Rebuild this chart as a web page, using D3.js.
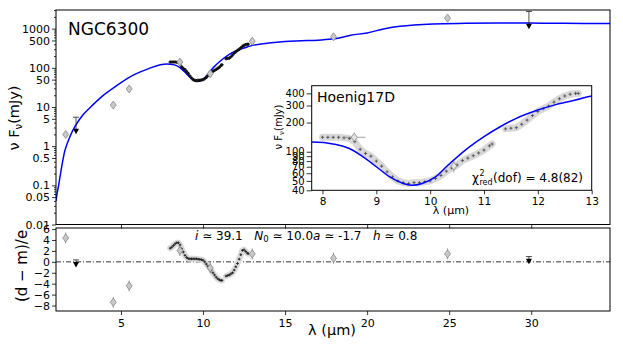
<!DOCTYPE html>
<html>
<head>
<meta charset="utf-8">
<script src="https://cdn.jsdelivr.net/npm/d3@7"></script>
<style>
  body { margin: 0; background: #fff; }
  text { font-family: "DejaVu Sans", sans-serif; fill: #000; }
</style>
</head>
<body>
<script>
"use strict";

// model SED (blue line)
const modelLam = [1.04, 1.1, 1.2, 1.4, 1.6, 1.9, 2.2, 2.7, 3.3, 3.9, 4.4, 5.0, 5.75, 6.8, 7.4, 7.8,
  8.25, 8.5, 8.75, 9.0, 9.25, 9.5, 9.66, 9.85, 10.1, 10.3, 10.5, 10.7, 11.0, 11.3, 11.6, 12.0,
  12.35, 12.7, 13.0, 14, 15, 16, 17, 18, 19, 20, 21, 22, 24, 26, 28, 30, 32, 34.8];
const modelVal = [0.04, 0.06, 0.1, 0.32, 0.82, 1.8, 3.2, 6.4, 11.5, 19.5, 28, 42, 65, 100, 120, 126,
  119, 108, 89, 70, 55, 47, 45, 47, 55, 70, 88, 109, 143, 181, 221, 269,
  308, 341, 375, 430, 470, 490, 510, 550, 680, 780, 980, 1150, 1320, 1370, 1390, 1390, 1370, 1350];

// spectrum (crosses) and its residuals
const specLam = [8.0, 8.1, 8.2, 8.3, 8.4, 8.5, 8.6, 8.7, 8.8, 8.9, 9.0, 9.1, 9.2, 9.3, 9.4, 9.5,
  9.6, 9.7, 9.8, 9.9, 10.0, 10.1, 10.2, 10.3, 10.4, 10.5, 10.6, 10.7, 10.8, 10.9, 11.0, 11.1, 11.15,
  11.4, 11.5, 11.6, 11.7, 11.8, 11.9, 12.0, 12.1, 12.2, 12.3, 12.4, 12.5, 12.6, 12.7, 12.75];
const specVal = [141, 141, 141, 141, 139, 137, 127, 106, 96, 90, 80, 71, 62, 55, 50, 48,
  47, 48, 48, 49, 50, 53, 57, 63, 68, 73, 81, 86, 91, 97, 104, 115, 120,
  172, 175, 177, 192, 212, 236, 260, 278, 296, 325, 352, 376, 392, 400, 400];
const specRes = [2.5, 2.7, 3.0, 3.3, 3.5, 3.5, 3.1, 2.4, 1.8, 1.2, 0.8, 0.6, 0.55, 0.55, 0.55, 0.55,
  0.55, 0.5, 0.45, 0.4, 0.3, 0.0, -0.4, -0.8, -1.1, -1.5, -2.0, -2.4, -2.8, -3.1, -3.3, -3.4, -3.4,
  -2.6, -2.5, -2.4, -2.2, -2.0, -1.5, -0.9, -0.3, 0.5, 1.3, 2.1, 2.2, 1.9, 1.6, 1.5];

// photometry (diamonds)
const photLam = [1.63, 4.53, 5.5, 8.59, 10.44, 13.0, 17.95, 24.9];
const photVal = [2.0, 11.2, 29, 141, 71, 480, 620, 1860];
const photErr = [0.1, 0.15, 0.12, 0.12, 0.14, 0.1, 0.1, 0.1];
const photLamErr = [0, 0, 0, 0.21, 0, 0, 0, 0];
const photRes = [4.38, -7.4, -4.4, 2.06, -1.1, 1.46, 0.66, 1.46];

// upper limits (triangles)
const ulLam = [2.26, 29.86];
const ulVal = [2.4, 1150];
const ulTop = [5.5, 2750];
const ulRes = [-0.5, 0.1];
const ulResTop = [0.36, 0.97];

const yMajor = [0.01, 0.05, 0.1, 0.5, 1, 5, 10, 50, 100, 500, 1000];
const resTicks = [-8, -6, -4, -2, 0, 2, 4, 6];
const xTicks = [5, 10, 15, 20, 25, 30];
const insetXTicks = [8, 9, 10, 11, 12, 13];
const insetYTicks = [40, 50, 60, 70, 80, 90, 100, 200, 300, 400];

const W = 623, H = 346;
const svg = d3.select("body").append("svg").attr("width", W).attr("height", H);

const x = d3.scaleLinear().domain([1.04, 34.8]).range([56, 610]);
const y = d3.scaleLog().domain([0.01, 3000]).range([224.5, 10]);
const yr = d3.scaleLinear().domain([-9, 6.2]).range([311, 228]);
const xi = d3.scaleLinear().domain([7.8, 13]).range([311.7, 591.7]);
const yi = d3.scaleLog().domain([40, 480]).range([190.3, 85.7]);

const diamond = "M0,-4L3,0L0,4L-3,0Z";
const triDown = "M-3,-2.5L3,-2.5L0,3Z";
const cross = "M-1.6,0H1.6M0,-1.6V1.6";
const smallCross = "M-1.3,0H1.3M0,-1.3V1.3";

function clip(id, x0, y0, x1, y1) {
  svg.append("clipPath").attr("id", id).append("rect")
    .attr("x", x0).attr("y", y0).attr("width", x1 - x0).attr("height", y1 - y0);
}
clip("cMain", 56, 10, 610, 224.5);
clip("cRes", 56, 228, 610, 311);
clip("cIns", 311.7, 85.7, 591.7, 190.3);

function styleAxis(g, fs) {
  g.select(".domain").remove();
  g.selectAll("line").attr("stroke", "#000").attr("stroke-width", 0.8);
  g.selectAll("text").style("font-size", fs + "px").attr("font-family", "DejaVu Sans");
}

const modelPts = modelLam.map((d, i) => [d, modelVal[i]]);

// ---------- top panel ----------
const gMain = svg.append("g").attr("clip-path", "url(#cMain)");
gMain.append("path").datum(modelPts)
  .attr("fill", "none").attr("stroke", "#0000ff").attr("stroke-width", 1.5)
  .attr("d", d3.line().curve(d3.curveCatmullRom.alpha(0.5)).x(d => x(d[0])).y(d => y(d[1])));

const specData = specLam.map((d, i) => ({ lam: d, v: specVal[i], r: specRes[i] }));
gMain.selectAll(".sp").data(specData).enter().append("path")
  .attr("d", cross).attr("transform", d => `translate(${x(d.lam)},${y(d.v)})`)
  .attr("stroke", "#111").attr("stroke-width", 1.6);

const photData = photLam.map((d, i) => ({ lam: d, v: photVal[i], e: photErr[i], xe: photLamErr[i], r: photRes[i] }));
gMain.selectAll(".pe").data(photData).enter().append("line")
  .attr("x1", d => x(d.lam)).attr("x2", d => x(d.lam))
  .attr("y1", d => y(d.v * (1 - d.e))).attr("y2", d => y(d.v * (1 + d.e)))
  .attr("stroke", "#777").attr("stroke-width", 0.8);
gMain.selectAll(".pd").data(photData).enter().append("path")
  .attr("d", diamond).attr("transform", d => `translate(${x(d.lam)},${y(d.v)})`)
  .attr("fill", "#c8c8c8").attr("stroke", "#888").attr("stroke-width", 0.8);

const ulData = ulLam.map((d, i) => ({ lam: d, v: ulVal[i], top: ulTop[i], r: ulRes[i], rt: ulResTop[i] }));
ulData.forEach(d => {
  gMain.append("line").attr("x1", x(d.lam)).attr("x2", x(d.lam)).attr("y1", y(d.v)).attr("y2", y(d.top))
    .attr("stroke", "#222").attr("stroke-width", 0.8);
  gMain.append("line").attr("x1", x(d.lam) - 3).attr("x2", x(d.lam) + 3).attr("y1", y(d.top)).attr("y2", y(d.top))
    .attr("stroke", "#222").attr("stroke-width", 0.8);
  gMain.append("path").attr("d", triDown).attr("transform", `translate(${x(d.lam)},${y(d.v)})`).attr("fill", "#000");
});

svg.append("rect").attr("x", 56).attr("y", 10).attr("width", 554).attr("height", 214.5)
  .attr("fill", "none").attr("stroke", "#000").attr("stroke-width", 1);

const yMinor = y.ticks().filter(t => !yMajor.some(m => Math.abs(m - t) / m < 1e-6));
svg.append("g").attr("transform", "translate(56,0)")
  .call(d3.axisLeft(y).tickValues(yMinor).tickSize(2).tickFormat(""))
  .call(g => styleAxis(g, 11));
svg.append("g").attr("transform", "translate(56,0)")
  .call(d3.axisLeft(y).tickValues(yMajor).tickSize(4).tickPadding(2).tickFormat(d => String(d)))
  .call(g => styleAxis(g, 11));
svg.append("g").attr("transform", "translate(0,224.5)")
  .call(d3.axisBottom(x).tickValues(xTicks).tickSize(4).tickFormat(""))
  .call(g => styleAxis(g, 11));

svg.append("text").attr("x", 68).attr("y", 35).style("font-size", "17px").text("NGC6300");

const yl = svg.append("text").attr("transform", "translate(19,118) rotate(-90)")
  .attr("text-anchor", "middle").style("font-size", "14.5px");
yl.append("tspan").text("ν F");
yl.append("tspan").attr("dy", 3).style("font-size", "10px").text("ν");
yl.append("tspan").attr("dy", -3).text("(mJy)");

// ---------- inset ----------
svg.append("rect").attr("x", 311.7).attr("y", 85.7).attr("width", 280).attr("height", 104.6).attr("fill", "#fff");
const gIns = svg.append("g").attr("clip-path", "url(#cIns)");
const specLine = d3.line().x(d => xi(d.lam)).y(d => yi(d.v));
[specData.filter(d => d.lam < 11.3), specData.filter(d => d.lam > 11.3)].forEach(seg => {
  gIns.append("path").datum(seg).attr("d", specLine).attr("fill", "none")
    .attr("stroke", "#d8d8d8").attr("stroke-width", 7).attr("stroke-linecap", "round").attr("stroke-linejoin", "round");
});
gIns.selectAll(".isp").data(specData).enter().append("path")
  .attr("d", cross).attr("transform", d => `translate(${xi(d.lam)},${yi(d.v)})`)
  .attr("stroke", "#444").attr("stroke-width", 0.8);
gIns.append("path").datum(modelPts)
  .attr("fill", "none").attr("stroke", "#0000ff").attr("stroke-width", 1.5)
  .attr("d", d3.line().curve(d3.curveCatmullRom.alpha(0.5)).x(d => xi(d[0])).y(d => yi(d[1])));
const insPhot = photData.filter(d => d.lam > 7.8 && d.lam < 13);
gIns.selectAll(".ipe").data(insPhot).enter().append("line")
  .attr("x1", d => xi(d.lam)).attr("x2", d => xi(d.lam))
  .attr("y1", d => yi(d.v * (1 - d.e))).attr("y2", d => yi(d.v * (1 + d.e)))
  .attr("stroke", "#888").attr("stroke-width", 0.8);
gIns.selectAll(".ixe").data(insPhot.filter(d => d.xe > 0)).enter().append("line")
  .attr("x1", d => xi(d.lam - d.xe)).attr("x2", d => xi(d.lam + d.xe))
  .attr("y1", d => yi(d.v)).attr("y2", d => yi(d.v))
  .attr("stroke", "#888").attr("stroke-width", 0.8);
gIns.selectAll(".ipd").data(insPhot).enter().append("path")
  .attr("d", diamond).attr("transform", d => `translate(${xi(d.lam)},${yi(d.v)})`)
  .attr("fill", "#e4e4e4").attr("stroke", "#888").attr("stroke-width", 0.8);

svg.append("rect").attr("x", 311.7).attr("y", 85.7).attr("width", 280).attr("height", 104.6)
  .attr("fill", "none").attr("stroke", "#000").attr("stroke-width", 1);
svg.append("g").attr("transform", "translate(311.7,0)")
  .call(d3.axisLeft(yi).tickValues(insetYTicks).tickSize(5).tickPadding(2).tickFormat(d => String(d)))
  .call(g => styleAxis(g, 10));
svg.append("g").attr("transform", "translate(0,190.3)")
  .call(d3.axisBottom(xi).tickValues(insetXTicks).tickSize(4).tickPadding(3).tickFormat(d => String(d)))
  .call(g => styleAxis(g, 10.5));

svg.append("text").attr("x", 317).attr("y", 102).style("font-size", "14px").text("Hoenig17D");
svg.append("text").attr("x", 451).attr("y", 214).attr("text-anchor", "middle").style("font-size", "11px").text("λ (μm)");
const iyl = svg.append("text").attr("transform", "translate(282,127) rotate(-90)")
  .attr("text-anchor", "middle").style("font-size", "10px");
iyl.append("tspan").text("ν F");
iyl.append("tspan").attr("dy", 2).style("font-size", "7px").text("ν");
iyl.append("tspan").attr("dy", -2).text("(mJy)");

// chi2 label
const cx0 = 472, cy0 = 182;
const chi = svg.append("text").attr("x", cx0).attr("y", cy0).style("font-size", "12px").text("χ");
const wChi = chi.node().getComputedTextLength();
svg.append("text").attr("x", cx0 + wChi + 0.5).attr("y", cy0 - 6).style("font-size", "8px").text("2");
const red = svg.append("text").attr("x", cx0 + wChi + 0.5).attr("y", cy0 + 3).style("font-size", "8px").text("red");
const wRed = red.node().getComputedTextLength();
svg.append("text").attr("x", cx0 + wChi + wRed + 1).attr("y", cy0).style("font-size", "12px").text("(dof) = 4.8(82)");

// ---------- residual panel ----------
const gRes = svg.append("g").attr("clip-path", "url(#cRes)");
gRes.append("line").attr("x1", 56).attr("x2", 610).attr("y1", yr(0)).attr("y2", yr(0))
  .attr("stroke", "#000").attr("stroke-width", 0.8).attr("stroke-dasharray", "5,2,1,2");
const resLine = d3.line().x(d => x(d.lam)).y(d => yr(d.r));
[specData.filter(d => d.lam < 11.3), specData.filter(d => d.lam > 11.3)].forEach(seg => {
  gRes.append("path").datum(seg).attr("d", resLine).attr("fill", "none")
    .attr("stroke", "#d8d8d8").attr("stroke-width", 6).attr("stroke-linecap", "round").attr("stroke-linejoin", "round");
});
gRes.selectAll(".rsp").data(specData).enter().append("path")
  .attr("d", smallCross).attr("transform", d => `translate(${x(d.lam)},${yr(d.r)})`)
  .attr("stroke", "#222").attr("stroke-width", 1);
gRes.selectAll(".rpe").data(photData).enter().append("line")
  .attr("x1", d => x(d.lam)).attr("x2", d => x(d.lam))
  .attr("y1", d => yr(d.r - 1)).attr("y2", d => yr(d.r + 1))
  .attr("stroke", "#777").attr("stroke-width", 0.8);
gRes.selectAll(".rpd").data(photData).enter().append("path")
  .attr("d", diamond).attr("transform", d => `translate(${x(d.lam)},${yr(d.r)})`)
  .attr("fill", "#c8c8c8").attr("stroke", "#888").attr("stroke-width", 0.8);
ulData.forEach(d => {
  gRes.append("line").attr("x1", x(d.lam)).attr("x2", x(d.lam)).attr("y1", yr(d.r)).attr("y2", yr(d.rt))
    .attr("stroke", "#222").attr("stroke-width", 0.8);
  gRes.append("line").attr("x1", x(d.lam) - 3).attr("x2", x(d.lam) + 3).attr("y1", yr(d.rt)).attr("y2", yr(d.rt))
    .attr("stroke", "#222").attr("stroke-width", 0.8);
  gRes.append("path").attr("d", triDown).attr("transform", `translate(${x(d.lam)},${yr(d.r)})`).attr("fill", "#000");
});

svg.append("rect").attr("x", 56).attr("y", 228).attr("width", 554).attr("height", 83)
  .attr("fill", "none").attr("stroke", "#000").attr("stroke-width", 1);
svg.append("g").attr("transform", "translate(56,0)")
  .call(d3.axisLeft(yr).tickValues(resTicks).tickSize(4).tickPadding(2).tickFormat(d => d < 0 ? "−" + Math.abs(d) : String(d)))
  .call(g => styleAxis(g, 11));
svg.append("g").attr("transform", "translate(0,311)")
  .call(d3.axisBottom(x).tickValues(xTicks).tickSize(4).tickPadding(4).tickFormat(d => String(d)))
  .call(g => styleAxis(g, 11));

const ann = svg.append("text").attr("x", 195).attr("y", 240).style("font-size", "12px")
  .attr("xml:space", "preserve").style("white-space", "pre");
ann.append("tspan").style("font-style", "italic").text("i");
ann.append("tspan").text(" ≃ 39.1   ");
ann.append("tspan").style("font-style", "italic").text("N");
ann.append("tspan").attr("dy", 2).style("font-size", "8.5px").text("0");
ann.append("tspan").attr("dy", -2).text(" ≃ 10.0");
ann.append("tspan").style("font-style", "italic").text("a");
ann.append("tspan").text(" ≃ -1.7   ");
ann.append("tspan").style("font-style", "italic").text("h");
ann.append("tspan").text(" ≃ 0.8");

svg.append("text").attr("transform", "translate(27,266) rotate(-90)")
  .attr("text-anchor", "middle").style("font-size", "15px").text("(d − m)/e");
svg.append("text").attr("x", 332).attr("y", 335).attr("text-anchor", "middle")
  .style("font-size", "14.5px").text("λ (μm)");
</script>
</body>
</html>
